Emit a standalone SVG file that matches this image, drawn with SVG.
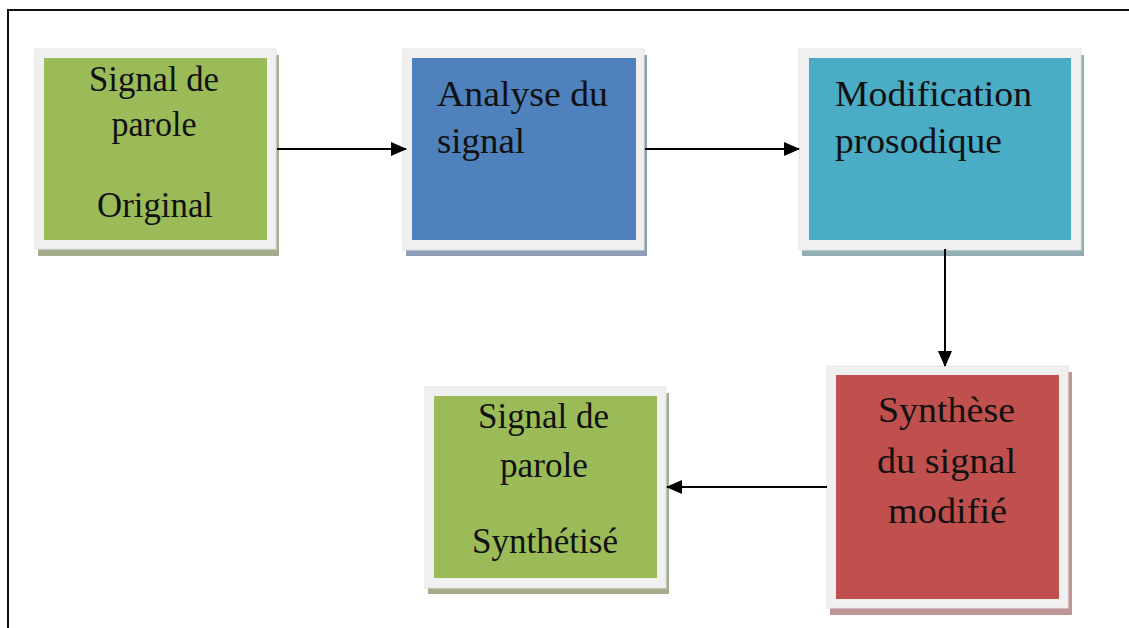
<svg xmlns="http://www.w3.org/2000/svg" width="1129" height="628" viewBox="0 0 1129 628">
<defs>
<style>
.frame{fill:#f0f0f0;stroke:#e4e4e4;stroke-width:1}
.t{font-family:"Liberation Serif","Times New Roman",serif;font-size:35px;fill:#111}
.c{text-anchor:middle}
.conn{stroke:#000;stroke-width:2;fill:none}
</style>
<marker id="arr" markerUnits="userSpaceOnUse" markerWidth="16" markerHeight="14" refX="15" refY="7" orient="auto">
<path d="M0,0 L16,7 L0,14 z" fill="#000"/>
</marker>
</defs>
<rect width="1129" height="628" fill="#fff"/>
<path d="M8,628 L8,10 L1129,10" fill="none" stroke="#111" stroke-width="2"/>

<g id="n1">
<rect x="38" y="55" width="241" height="201" fill="#a3ad8c"/>
<rect class="frame" x="35" y="49" width="241" height="200"/>
<rect x="44" y="58" width="223" height="182" fill="#9bbb59"/>
<text class="t c" x="154" y="91" textLength="130" lengthAdjust="spacingAndGlyphs">Signal de</text>
<text class="t c" x="154" y="136" textLength="85" lengthAdjust="spacingAndGlyphs">parole</text>
<text class="t c" x="155" y="217" textLength="116" lengthAdjust="spacingAndGlyphs">Original</text>
</g>

<g id="n2">
<rect x="406" y="55" width="241" height="201" fill="#8d9db5"/>
<rect class="frame" x="403" y="49" width="241" height="201"/>
<rect x="412" y="58" width="224" height="182" fill="#4f81bd"/>
<text class="t" x="437" y="106" textLength="171" lengthAdjust="spacingAndGlyphs">Analyse du</text>
<text class="t" x="437" y="153" textLength="88" lengthAdjust="spacingAndGlyphs">signal</text>
</g>

<g id="n3">
<rect x="802" y="55" width="282" height="201" fill="#93adb5"/>
<rect class="frame" x="799" y="49" width="282" height="201"/>
<rect x="809" y="58" width="262" height="182" fill="#4bacc6"/>
<text class="t" x="835" y="106" textLength="197" lengthAdjust="spacingAndGlyphs">Modification</text>
<text class="t" x="835" y="153" textLength="167" lengthAdjust="spacingAndGlyphs">prosodique</text>
</g>

<g id="n5">
<rect x="830" y="372" width="242" height="243" fill="#bd9595"/>
<rect class="frame" x="827" y="366" width="241" height="242"/>
<rect x="836" y="375" width="223" height="224" fill="#c0504d"/>
<text class="t c" x="946.5" y="422" textLength="137" lengthAdjust="spacingAndGlyphs">Synthèse</text>
<text class="t c" x="946.5" y="473" textLength="139" lengthAdjust="spacingAndGlyphs">du signal</text>
<text class="t c" x="947.5" y="523" textLength="119" lengthAdjust="spacingAndGlyphs">modifié</text>
</g>

<g id="n4">
<rect x="428" y="393" width="241" height="201" fill="#a3ad8c"/>
<rect class="frame" x="425" y="387" width="241" height="201"/>
<rect x="434" y="396" width="223" height="182" fill="#9bbb59"/>
<text class="t c" x="543.5" y="428" textLength="131" lengthAdjust="spacingAndGlyphs">Signal de</text>
<text class="t c" x="544" y="477" textLength="88" lengthAdjust="spacingAndGlyphs">parole</text>
<text class="t c" x="545" y="553" textLength="146" lengthAdjust="spacingAndGlyphs">Synthétisé</text>
</g>

<g id="connectors">
<line class="conn" x1="277" y1="149" x2="406" y2="149" marker-end="url(#arr)"/>
<line class="conn" x1="645" y1="149" x2="799" y2="149" marker-end="url(#arr)"/>
<line class="conn" x1="945" y1="249" x2="945" y2="366" marker-end="url(#arr)"/>
<line class="conn" x1="827" y1="487" x2="667" y2="487" marker-end="url(#arr)"/>
</g>
</svg>
